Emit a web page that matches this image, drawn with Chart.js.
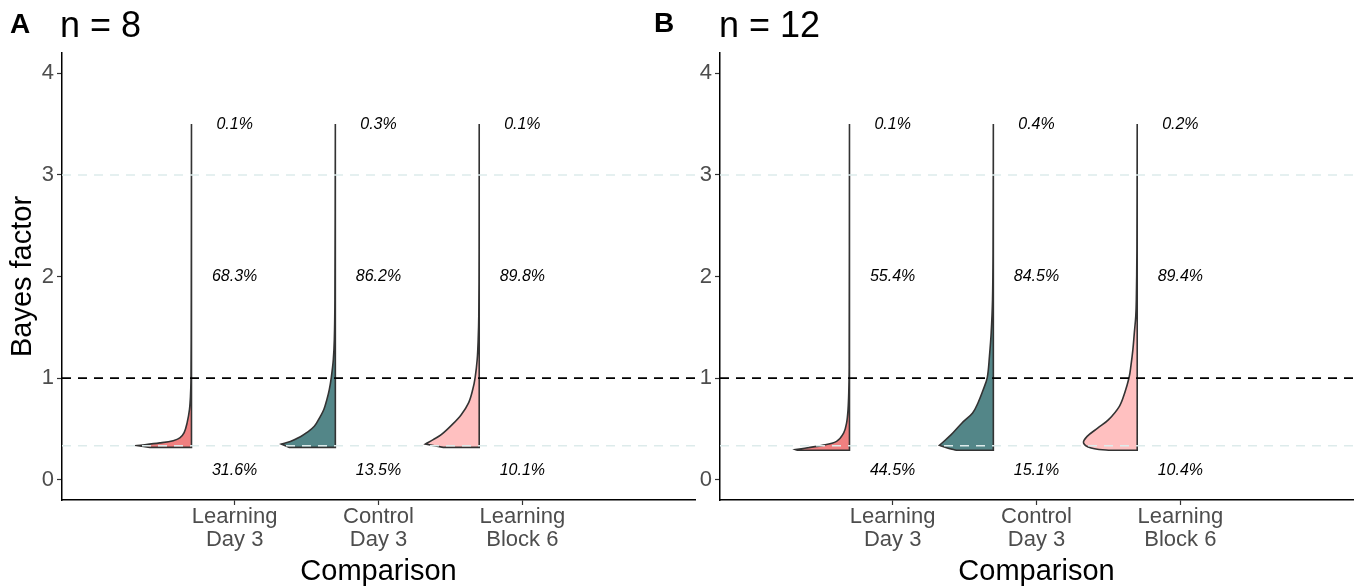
<!DOCTYPE html>
<html>
<head>
<meta charset="utf-8">
<script src="https://cdn.jsdelivr.net/npm/chart.js@4.4.1/dist/chart.umd.min.js"></script>
<style>
  body { margin: 0; background: #fff; width: 1361px; height: 587px; position: relative; overflow: hidden;
         font-family: "Liberation Sans", Arial, sans-serif; }
  canvas { position: absolute; top: 0; }
  #chartA { left: 0; }
  #chartB { left: 660px; }
  .tag { position: absolute; font-weight: bold; font-size: 28px; line-height: 28px; color: #000; }
  .ttl { position: absolute; font-size: 36px; line-height: 36px; color: #000; }
</style>
</head>
<body>
<canvas id="chartA" width="700" height="587"></canvas>
<canvas id="chartB" width="701" height="587"></canvas>
<div class="tag" style="left:10px;top:10px">A</div>
<div class="ttl" style="left:60px;top:7px">n = 8</div>
<div class="tag" style="left:654px;top:9px">B</div>
<div class="ttl" style="left:719px;top:7px">n = 12</div>
<script>
const FONT = '"Liberation Sans", Arial, sans-serif';

// categories on the x axis
const categories = [1, 2, 3];
const comparisonLabels = [['Learning', 'Day 3'], ['Control', 'Day 3'], ['Learning', 'Block 6']];
const violinColors = ['#F08080', '#538688', '#FFC0C0'];
const yTicks = [0, 1, 2, 3, 4];
const darkRefLines = [1];
const lightRefLines = [1 / 3, 3];
const violinNudge = 0.3;

// percentages printed above / beside / below each violin
const pctLevels = [3.5, 2, 0.09];
const pctTopA = ['0.1%', '0.3%', '0.1%'];
const pctMidA = ['68.3%', '86.2%', '89.8%'];
const pctBotA = ['31.6%', '13.5%', '10.1%'];
const pctTopB = ['0.1%', '0.4%', '0.2%'];
const pctMidB = ['55.4%', '84.5%', '89.4%'];
const pctBotB = ['44.5%', '15.1%', '10.4%'];

// half-violins: Bayes factor levels and half widths (density), n = 8
const bfA1 = [0.318, 0.335, 0.362, 0.384, 0.411, 0.463, 0.562, 0.690, 0.818, 0.985, 1.773, 3.5];
const wA1  = [0.290, 0.378, 0.220, 0.127, 0.081, 0.051, 0.030, 0.014, 0.007, 0.0035, 0.0014, 0];
const bfA2 = [0.318, 0.351, 0.377, 0.423, 0.460, 0.525, 0.624, 0.690, 0.788, 0.887, 1.008, 1.182, 1.379, 1.773, 3.5];
const wA2  = [0.320, 0.375, 0.313, 0.243, 0.202, 0.146, 0.104, 0.080, 0.059, 0.042, 0.028, 0.014, 0.007, 0.003, 0];
const bfA3 = [0.318, 0.351, 0.394, 0.443, 0.542, 0.640, 0.759, 0.887, 1.008, 1.182, 1.379, 1.605, 2.266, 3.5];
const wA3  = [0.250, 0.373, 0.320, 0.264, 0.188, 0.125, 0.073, 0.045, 0.028, 0.014, 0.007, 0.003, 0.0007, 0];

// n = 12
const bfB1 = [0.289, 0.296, 0.338, 0.377, 0.460, 0.558, 0.690, 0.855, 1.117, 3.5];
const wB1  = [0.361, 0.375, 0.188, 0.090, 0.040, 0.020, 0.010, 0.005, 0.002, 0];
const bfB2 = [0.289, 0.312, 0.338, 0.443, 0.558, 0.657, 0.755, 0.887, 1.008, 1.215, 1.445, 1.773, 2.266, 3.5];
const wB2  = [0.256, 0.320, 0.375, 0.293, 0.218, 0.144, 0.107, 0.070, 0.042, 0.027, 0.015, 0.0056, 0.002, 0];
const bfB3 = [0.289, 0.312, 0.362, 0.426, 0.509, 0.591, 0.722, 0.854, 1.008, 1.117, 1.281, 1.445, 1.609, 1.773, 2.266, 3.5];
const wB3  = [0.199, 0.320, 0.373, 0.348, 0.273, 0.199, 0.124, 0.087, 0.056, 0.044, 0.030, 0.020, 0.010, 0.006, 0.002, 0];

const xMin = -0.2, xMax = 4.2, yMin = -0.2, yMax = 4.2;

// closed outline: right edge down, bottom edge, then density curve back up.
// corner points are doubled so the smoothed curve keeps them sharp
function halfViolin(pos, bf, w, sharpTip) {
    const right = pos - violinNudge;
    const bottomRight = {x: right, y: bf[0]};
    const pts = [{x: right, y: bf[bf.length - 1]}, bottomRight, bottomRight];
    const tip = w.indexOf(Math.max(...w));
    for (let i = 0; i < bf.length; i++) {
        const p = {x: right - w[i], y: bf[i]};
        pts.push(p);
        if (i === 0 || (sharpTip && i === tip)) pts.push(p);
    }
    return pts;
}

function refLine(y, color, width) {
    return {
        data: [{x: xMin, y: y}, {x: xMax, y: y}],
        showLine: true, borderColor: color, borderWidth: width, borderDash: [9, 7],
        pointRadius: 0, fill: false, order: 0
    };
}

const pctPlugin = {
    id: 'pct',
    afterDatasetsDraw(chart, args, opts) {
        const {ctx, scales: {x, y}} = chart;
        ctx.save();
        ctx.font = 'italic 16px ' + FONT;
        ctx.fillStyle = '#000';
        ctx.textAlign = 'center';
        ctx.textBaseline = 'middle';
        opts.rows.forEach((row, r) => {
            row.forEach((txt, i) => ctx.fillText(txt, x.getPixelForValue(categories[i]), y.getPixelForValue(pctLevels[r])));
        });
        ctx.restore();
    }
};

function makeChart(id, violins, rows, showYTitle, yWidth, padRight) {
    const datasets = [];
    lightRefLines.forEach(v => datasets.push(refLine(v, '#DDEBEB', 1.5)));
    darkRefLines.forEach(v => datasets.push(refLine(v, '#000', 1.8)));
    violins.forEach((v, i) => datasets.push({
        data: halfViolin(categories[i], v[0], v[1], v[2]),
        showLine: true, fill: 'shape', tension: 0.35,
        backgroundColor: violinColors[i], borderColor: '#333', borderWidth: 1.6,
        pointRadius: 0, order: 1
    }));

    const axisGrid = {display: true, drawOnChartArea: false, drawTicks: true, tickLength: 5, tickColor: '#333', tickWidth: 1.2};
    const axisBorder = {display: true, color: '#000', width: 1.5};

    return new Chart(document.getElementById(id), {
        type: 'scatter',
        data: {datasets},
        options: {
            responsive: false,
            devicePixelRatio: 1,
            animation: false,
            layout: {padding: {top: 53, right: padRight, left: 0, bottom: 0}},
            plugins: {legend: {display: false}, tooltip: {enabled: false}, pct: {rows}},
            scales: {
                x: {
                    type: 'linear', min: xMin, max: xMax,
                    afterBuildTicks: s => { s.ticks = categories.map(v => ({value: v})); },
                    afterFit: s => { s.height = 87; },
                    ticks: {
                        callback: (v, i) => comparisonLabels[i],
                        color: '#4D4D4D', font: {family: FONT, size: 22, lineHeight: 1.05},
                        padding: 0, maxRotation: 0, autoSkip: false
                    },
                    grid: axisGrid,
                    border: axisBorder,
                    title: {display: true, text: 'Comparison', color: '#000', font: {family: FONT, size: 29}, padding: {top: 0, bottom: -2}}
                },
                y: {
                    type: 'linear', min: yMin, max: yMax,
                    afterBuildTicks: s => { s.ticks = yTicks.map(v => ({value: v})); },
                    afterFit: s => { s.width = yWidth; },
                    ticks: {color: '#4D4D4D', font: {family: FONT, size: 22}, padding: 3},
                    grid: axisGrid,
                    border: axisBorder,
                    title: {display: showYTitle, text: 'Bayes factor', color: '#000', font: {family: FONT, size: 29}, padding: {top: 6, bottom: 0}}
                }
            }
        },
        plugins: [pctPlugin]
    });
}

makeChart('chartA', [[bfA1, wA1, true], [bfA2, wA2, true], [bfA3, wA3, true]], [pctTopA, pctMidA, pctBotA], true, 62, 5);
makeChart('chartB', [[bfB1, wB1, true], [bfB2, wB2, true], [bfB3, wB3, false]], [pctTopB, pctMidB, pctBotB], false, 60, 8);
</script>
</body>
</html>
